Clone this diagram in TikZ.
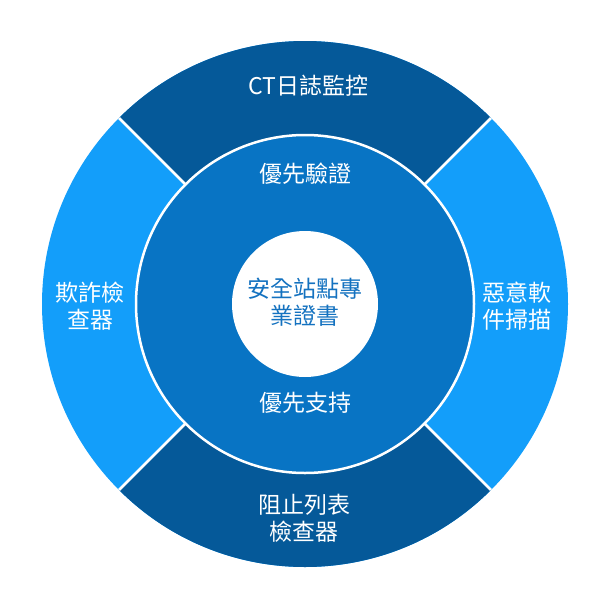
\documentclass[tikz,border=0pt]{standalone}
\usepackage{fontspec}
\setmainfont{Noto Sans CJK TC}
\definecolor{darkseg}{RGB}{5,89,153}
\definecolor{lightseg}{RGB}{19,158,250}
\definecolor{midring}{RGB}{8,116,196}
\definecolor{centertext}{RGB}{20,114,192}
\begin{document}
\begin{tikzpicture}[x=1pt,y=1pt,
  lbl/.style={text=white,align=center,font=\fontsize{23}{27}\selectfont,inner sep=0pt},
  sep/.style={draw=white,line width=2.5pt}]
\useasboundingbox (0,0) rectangle (600,-600);
\coordinate (C) at (305,-304);
% outer ring
\fill[lightseg] (C) circle (263);
\fill[darkseg] (C) -- ++(45:263) arc (45:135:263) -- cycle;
\fill[darkseg] (C) -- ++(225:263) arc (225:315:263) -- cycle;
\foreach \a in {45,135,225,315} \draw[sep] (C) -- ++(\a:263);
% middle ring
\fill[midring] (C) circle (169);
\draw[draw=white,line width=2.5pt] (C) circle (169);
% center
\fill[white] (C) circle (73);
% labels
\node[lbl] (top) at (308,-86) {CT日誌監控};
\node[lbl] (mtop) at (305,-174) {優先驗證};
\node[lbl] (mbot) at (305,-403) {優先支持};
\node[lbl,text=centertext] (center) at (305,-302) {安全站點專\\業證書};
\node[lbl] (left) at (90,-306) {欺詐檢\\查器};
\node[lbl] (right) at (517,-306) {惡意軟\\件掃描};
\node[lbl] (bottom) at (304,-518) {阻止列表\\檢查器};
\end{tikzpicture}
\end{document}
